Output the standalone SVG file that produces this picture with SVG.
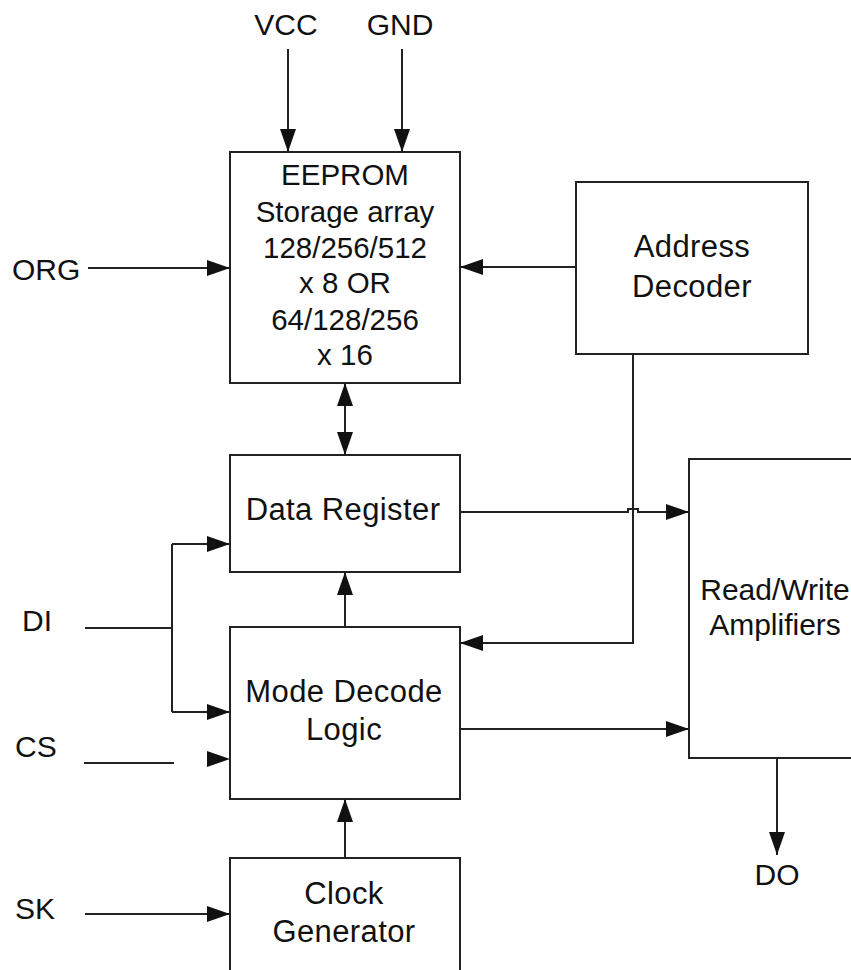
<svg xmlns="http://www.w3.org/2000/svg" width="851" height="970" viewBox="0 0 851 970">
<style>
.box{fill:#fff;stroke:#222;stroke-width:2}
.ln{fill:none;stroke:#222;stroke-width:2}
.t{font-family:"Liberation Sans",Arial,sans-serif;font-size:31px;letter-spacing:0.4px;fill:#111;text-anchor:middle}
.p{font-family:"Liberation Sans",Arial,sans-serif;font-size:30px;fill:#111;text-anchor:middle}
.ts{font-family:"Liberation Sans",Arial,sans-serif;font-size:29.5px;fill:#111;text-anchor:middle}
.l{font-family:"Liberation Sans",Arial,sans-serif;font-size:30px;fill:#111}
</style>
<defs>
<marker id="ah" markerUnits="userSpaceOnUse" markerWidth="24" markerHeight="16" refX="23" refY="8" orient="auto-start-reverse">
<path d="M0,0 L23,8 L0,16 Z" fill="#111"/>
</marker>
</defs>
<rect width="851" height="970" fill="#fff"/>
<g id="eeprom">
<rect class="box" x="230" y="152" width="230" height="231"/>
<text class="ts" x="345" y="185">EEPROM</text>
<text class="ts" x="345" y="222">Storage array</text>
<text class="ts" x="345" y="258">128/256/512</text>
<text class="ts" x="345" y="293">x 8 OR</text>
<text class="ts" x="345" y="330">64/128/256</text>
<text class="ts" x="345" y="365">x 16</text>
</g>
<g id="address-decoder">
<rect class="box" x="576" y="182" width="232" height="172"/>
<text class="t" x="692" y="257">Address</text>
<text class="t" x="692" y="297">Decoder</text>
</g>
<g id="data-register">
<rect class="box" x="230" y="455" width="230" height="117"/>
<text class="t" x="343" y="520">Data Register</text>
</g>
<g id="mode-decode">
<rect class="box" x="230" y="627" width="230" height="172"/>
<text class="t" x="344" y="702">Mode Decode</text>
<text class="t" x="344" y="740">Logic</text>
</g>
<g id="clock-generator">
<rect class="box" x="230" y="858" width="230" height="130"/>
<text class="t" x="344" y="904">Clock</text>
<text class="t" x="344" y="942">Generator</text>
</g>
<g id="rw-amplifiers">
<rect class="box" x="689" y="459" width="180" height="299"/>
<text class="p" x="775" y="600">Read/Write</text>
<text class="p" x="775" y="635">Amplifiers</text>
</g>
<g id="labels">
<text class="p" x="286" y="35">VCC</text>
<text class="p" x="400" y="35">GND</text>
<text class="l" x="12" y="280">ORG</text>
<text class="l" x="22" y="631">DI</text>
<text class="l" x="15" y="757">CS</text>
<text class="l" x="15" y="919">SK</text>
<text class="p" x="777" y="885">DO</text>
</g>
<g id="connectors">
<line class="ln" x1="288" y1="49" x2="288" y2="152" marker-end="url(#ah)"/>
<line class="ln" x1="402" y1="49" x2="402" y2="152" marker-end="url(#ah)"/>
<line class="ln" x1="88" y1="268" x2="230" y2="268" marker-end="url(#ah)"/>
<line class="ln" x1="576" y1="267" x2="460" y2="267" marker-end="url(#ah)"/>
<line class="ln" x1="345" y1="383" x2="345" y2="455" marker-start="url(#ah)" marker-end="url(#ah)"/>
<path class="ln" d="M460,512 H628 V509 H638 V512 H689" marker-end="url(#ah)"/>
<path class="ln" d="M633,354 V643 H460" marker-end="url(#ah)"/>
<line class="ln" x1="345" y1="627" x2="345" y2="572" marker-end="url(#ah)"/>
<line class="ln" x1="460" y1="729" x2="689" y2="729" marker-end="url(#ah)"/>
<line class="ln" x1="345" y1="858" x2="345" y2="799" marker-end="url(#ah)"/>
<path class="ln" d="M85,628 H172"/>
<path class="ln" d="M172,544 V712"/>
<line class="ln" x1="172" y1="544" x2="230" y2="544" marker-end="url(#ah)"/>
<line class="ln" x1="172" y1="712" x2="230" y2="712" marker-end="url(#ah)"/>
<line class="ln" x1="84" y1="763" x2="174" y2="763"/>
<path d="M207,751 L230,759 L207,767 Z" fill="#111"/>
<line class="ln" x1="85" y1="914" x2="230" y2="914" marker-end="url(#ah)"/>
<line class="ln" x1="777" y1="758" x2="777" y2="855" marker-end="url(#ah)"/>
</g>
</svg>
